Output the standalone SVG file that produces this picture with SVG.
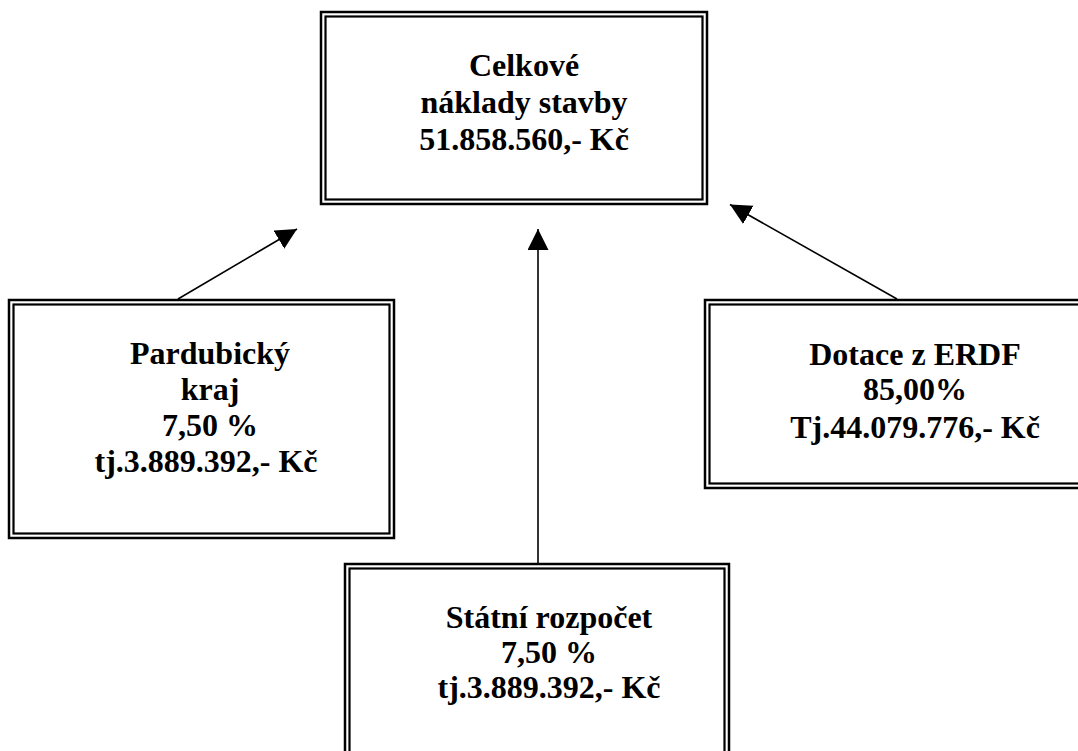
<svg xmlns="http://www.w3.org/2000/svg" width="1078" height="751" viewBox="0 0 1078 751">
  <style>
    .outer { fill: #ffffff; stroke: #000000; stroke-width: 2.5; }
    .inner { fill: none; stroke: #000000; stroke-width: 2.2; }
    .lbl { font-family: "Liberation Serif", "Times New Roman", serif; font-weight: bold; font-size: 32px; fill: #000000; text-anchor: middle; }
    .conn { stroke: #000000; stroke-width: 1.6; fill: none; marker-end: url(#arrow); }
  </style>
  <defs>
    <marker id="arrow" markerUnits="userSpaceOnUse" markerWidth="22" markerHeight="22" refX="21" refY="10.5" orient="auto" viewBox="0 0 22 22">
      <path d="M0,0 L21,10.5 L0,21 z" fill="#000000"/>
    </marker>
  </defs>
  <rect width="1078" height="751" fill="#ffffff"/>

  <g id="connectors">
    <line class="conn" x1="178" y1="299" x2="297" y2="229"/>
    <line class="conn" x1="538" y1="564" x2="538" y2="229"/>
    <line class="conn" x1="897" y1="299" x2="730" y2="204.5"/>
  </g>

  <g id="node-celkove">
    <rect class="outer" x="321" y="12" width="386" height="192"/>
    <rect class="inner" x="325.5" y="16.5" width="377" height="183"/>
    <text class="lbl" x="524" y="76">Celkové</text>
    <text class="lbl" x="524" y="113">náklady stavby</text>
    <text class="lbl" x="524" y="150">51.858.560,- Kč</text>
  </g>

  <g id="node-pardubicky">
    <rect class="outer" x="9" y="300" width="385" height="238"/>
    <rect class="inner" x="13.5" y="304.5" width="376" height="229"/>
    <text class="lbl" x="210" y="364">Pardubický</text>
    <text class="lbl" x="210" y="400">kraj</text>
    <text class="lbl" x="210" y="436">7,50 %</text>
    <text class="lbl" x="206" y="472">tj.3.889.392,- Kč</text>
  </g>

  <g id="node-erdf">
    <rect class="outer" x="705" y="300" width="400" height="188"/>
    <rect class="inner" x="709.5" y="304.5" width="391" height="179"/>
    <text class="lbl" x="915" y="365">Dotace z ERDF</text>
    <text class="lbl" x="915" y="400">85,00%</text>
    <text class="lbl" x="915" y="438">Tj.44.079.776,- Kč</text>
  </g>

  <g id="node-statni">
    <rect class="outer" x="345" y="564" width="384" height="200"/>
    <rect class="inner" x="349.5" y="568.5" width="375" height="191"/>
    <text class="lbl" x="549" y="628">Státní rozpočet</text>
    <text class="lbl" x="549" y="663">7,50 %</text>
    <text class="lbl" x="549" y="698">tj.3.889.392,- Kč</text>
  </g>
</svg>
